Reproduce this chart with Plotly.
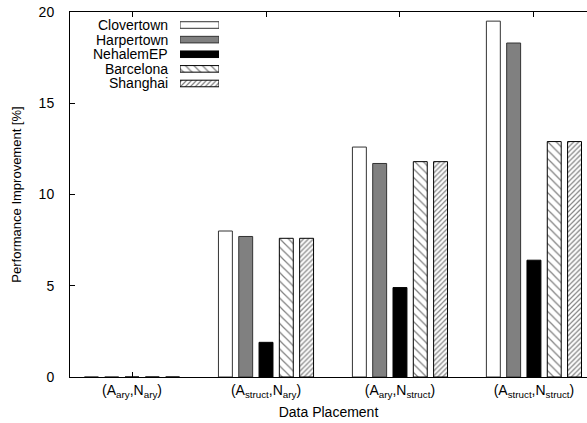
import plotly.graph_objects as go

categories = ["(A<sub>ary</sub>,N<sub>ary</sub>)", "(A<sub>struct</sub>,N<sub>ary</sub>)",
              "(A<sub>ary</sub>,N<sub>struct</sub>)", "(A<sub>struct</sub>,N<sub>struct</sub>)"]
series_names = ["Clovertown", "Harpertown", "NehalemEP", "Barcelona", "Shanghai"]
clovertown = [0.0, 8.0, 12.6, 19.5]
harpertown = [0.0, 7.7, 11.7, 18.3]
nehalem = [0.0, 1.9, 4.9, 6.4]
barcelona = [0.0, 7.6, 11.8, 12.9]
shanghai = [0.0, 7.6, 11.8, 12.9]
yticks = [0, 5, 10, 15, 20]

values = [clovertown, harpertown, nehalem, barcelona, shanghai]
styles = [
    dict(color="white", line=dict(color="#333333", width=1)),
    dict(color="#808080", line=dict(color="#333333", width=1)),
    dict(color="black", line=dict(color="black", width=1)),
    dict(color="white", line=dict(color="black", width=1),
         pattern=dict(shape="\\", fgcolor="black", bgcolor="white", size=6, solidity=0.2)),
    dict(color="white", line=dict(color="black", width=1),
         pattern=dict(shape="/", fgcolor="black", bgcolor="white", size=3.5, solidity=0.35)),
]

FONT = "Liberation Sans, Arial, sans-serif"
xpos = list(range(len(categories)))
step = 0.1515
bw = 0.104

fig = go.Figure()
for i, (name, vals) in enumerate(zip(series_names, values)):
    fig.add_trace(go.Bar(x=xpos, y=vals, name=name, marker=styles[i],
                         width=bw, offset=(i - 2) * step - bw / 2,
                         xaxis="x", yaxis="y", showlegend=False))
    # legend sample
    fig.add_trace(go.Bar(x=[1], y=[i], orientation="h", marker=styles[i],
                         width=0.45, xaxis="x2", yaxis="y2", showlegend=False,
                         hoverinfo="skip"))

annotations = []
for i, name in enumerate(series_names):
    annotations.append(dict(text=name, x=(170 - 70) / 517, xref="paper", y=i, yref="y2",
                            xanchor="right", yanchor="middle", showarrow=False,
                            font=dict(family=FONT, size=14, color="black")))

fig.update_layout(
    width=587, height=423,
    margin=dict(l=70, r=0, t=12, b=46),
    plot_bgcolor="white", paper_bgcolor="white",
    barmode="overlay",
    font=dict(family=FONT, size=14, color="black"),
    annotations=annotations,
    xaxis=dict(range=[-0.463, 3.396], tickvals=xpos, ticktext=categories,
               showline=True, linecolor="black", linewidth=1, mirror="ticks",
               ticks="inside", ticklen=5, tickcolor="black", showgrid=False,
               zeroline=False, tickfont=dict(size=14),
               title=dict(text="Data Placement", font=dict(size=14), standoff=8)),
    yaxis=dict(range=[0, 20], tickvals=yticks, showline=True, linecolor="black",
               linewidth=1, ticks="inside", ticklen=5, tickcolor="black",
               showgrid=False, zeroline=False, ticklabelstandoff=12,
               tickfont=dict(size=14),
               title=dict(text="Performance Improvement [%]", font=dict(size=13), standoff=14)),
    xaxis2=dict(domain=[(180 - 70) / 517, (219 - 70) / 517], range=[0, 1],
                visible=False, anchor="y2"),
    yaxis2=dict(domain=[(377 - 90.8) / 365, (377 - 17.7) / 365], range=[4.5, -0.5],
                visible=False, anchor="x2"),
)

fig.write_html("out.html")
